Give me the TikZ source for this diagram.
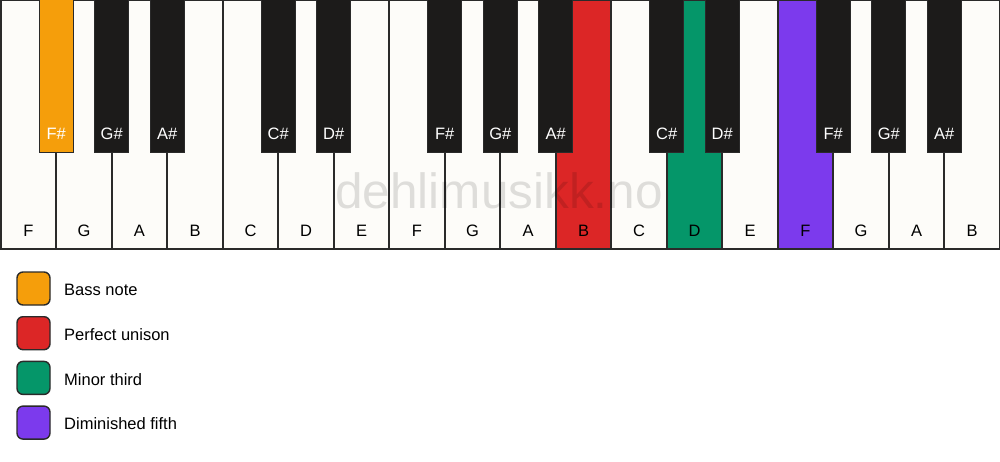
\documentclass[tikz,border=0pt]{standalone}
\usepackage{fontspec}
\setmainfont{Liberation Sans}
\definecolor{keywhite}{HTML}{FDFCF9}
\definecolor{keyblack}{HTML}{1C1B1A}
\definecolor{keyline}{HTML}{2A2A2A}
\definecolor{bassnote}{HTML}{F59E0B}
\definecolor{unison}{HTML}{DC2626}
\definecolor{minthird}{HTML}{059669}
\definecolor{dimfifth}{HTML}{7C3AED}
\begin{document}
\begin{tikzpicture}[x=1pt, y=-1pt,
    whitekey/.style={draw=keyline, line width=1.7pt, minimum width=55.5pt, minimum height=248.5pt, inner sep=0pt},
    blackkey/.style={draw=keyline, line width=1.2pt, minimum width=34pt, minimum height=153pt, inner sep=0pt},
    keylabel/.style={anchor=base, inner sep=0pt, font=\fontsize{16.5}{20}\selectfont},
    swatch/.style={draw=keyline, line width=1.4pt, rounded corners=6pt, minimum size=33pt, inner sep=0pt}]
    \useasboundingbox[fill=white] (0,0) rectangle (1000,461);
    % white keys
    \foreach[count=\x from 0] \n/\c in {F/keywhite,G/keywhite,A/keywhite,B/keywhite,C/keywhite,D/keywhite,E/keywhite,
        F/keywhite,G/keywhite,A/keywhite,B/unison,C/keywhite,D/minthird,E/keywhite,F/dimfifth,G/keywhite,A/keywhite,B/keywhite}
    {
        \node[whitekey, fill=\c] (w\x) at (28.5+55.5*\x,124.75) {};
        \node[keylabel] (lw\x) at (28.5+55.5*\x,236) {\n};
    }
    % watermark
    \node[anchor=base, inner sep=0pt, text=black, text opacity=0.12, font=\fontsize{49.5}{54}\selectfont] (mark) at (499,208) {dehlimusikk.no};
    % black keys
    \foreach[count=\x] \k/\n/\c in {1/F\#/bassnote,2/G\#/keyblack,3/A\#/keyblack,5/C\#/keyblack,6/D\#/keyblack,
        8/F\#/keyblack,9/G\#/keyblack,10/A\#/keyblack,12/C\#/keyblack,13/D\#/keyblack,15/F\#/keyblack,16/G\#/keyblack,17/A\#/keyblack}
    {
        \node[blackkey, fill=\c] (b\x) at (0.75+55.5*\k,76) {};
        \node[keylabel, text=white] (lb\x) at (0.75+55.5*\k,139) {\n};
    }
    % legend
    \foreach[count=\x from 0] \c/\t in {bassnote/Bass note,unison/Perfect unison,minthird/Minor third,dimfifth/Diminished fifth}
    {
        \node[swatch, fill=\c] (s\x) at (33.5,288.5+44.7*\x) {};
        \node[keylabel, anchor=base west] (t\x) at (64,295.7+44.7*\x) {\t};
    }
\end{tikzpicture}
\end{document}
